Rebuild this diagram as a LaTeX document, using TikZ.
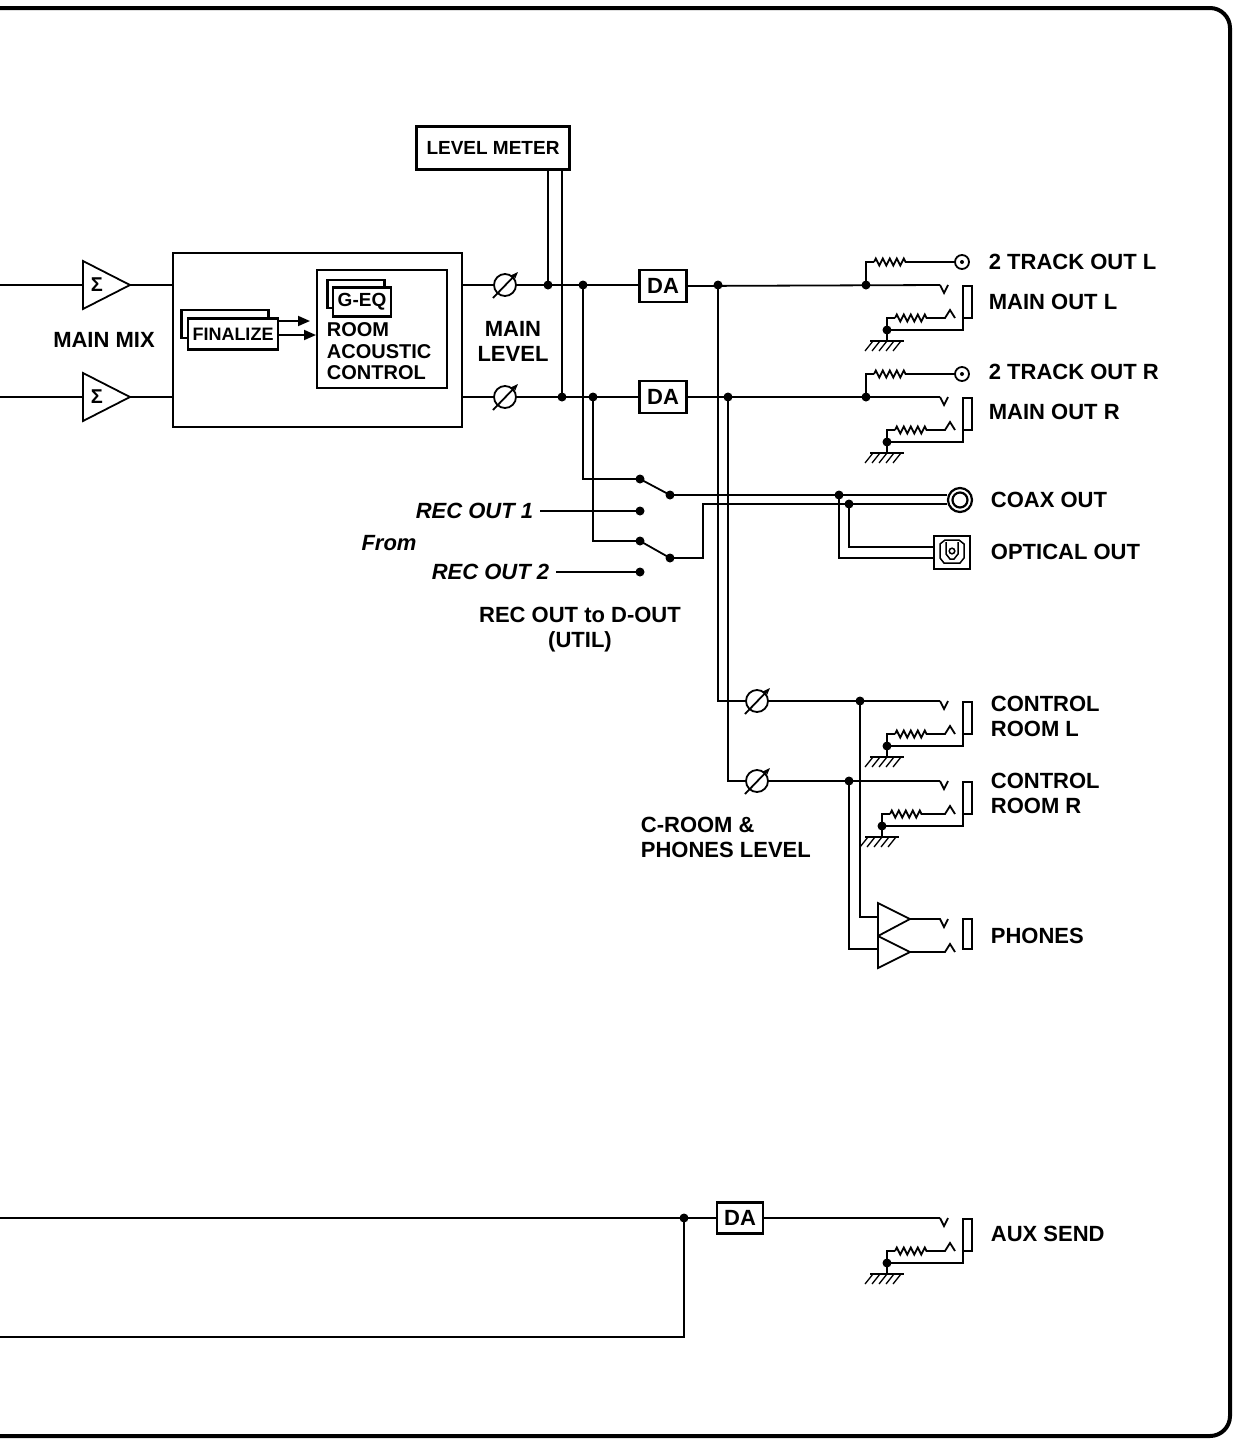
\documentclass[tikz,border=0pt]{standalone}
\usepackage{fontspec}
\setmainfont{Liberation Sans}
\usetikzlibrary{decorations.pathmorphing,arrows.meta}
\begin{document}
\begin{tikzpicture}[x=1pt,y=-1pt,line width=1.8pt,
  lbl/.style={font=\fontsize{22}{25}\selectfont\bfseries,inner sep=0pt,align=left},
  ilbl/.style={font=\fontsize{22}{25}\selectfont\bfseries\itshape,inner sep=0pt},
  box/.style={draw,line width=2.4pt,fill=white},
  res/.style={decorate,decoration={zigzag,segment length=7pt,amplitude=3.5pt}}]
\useasboundingbox (0,0) rectangle (1237,1443);
\draw[line width=4pt,rounded corners=20pt] (0,8) -- (1230,8) -- (1230,1436) -- (0,1436);
\newcommand\myjack[2]{%
  \draw (940,#1) -- (944,#1+8) -- (948,#1);
  \draw (963,#1+1) rectangle (972,#1+33);
  \draw (#2,#1+45) -- (#2,#1+33) -- (#2+8,#1+33);
  \draw[res] (#2+8,#1+33) -- (#2+42,#1+33);
  \draw (#2+42,#1+33) -- (945,#1+33) -- (950,#1+25) -- (955,#1+33);
  \draw (#2,#1+45) -- (963,#1+45) -- (963,#1+33);
  \fill (#2,#1+45) circle (4.5);
  \draw (#2,#1+45) -- (#2,#1+56);
  \draw (#2-17,#1+56) -- (#2+17,#1+56);
  \foreach \k in {0,1,2,3,4} \draw[line width=1.3pt] (#2-14+\k*7,#1+56) -- (#2-22+\k*7,#1+66);
}
\newcommand\mypot[2]{%
  \draw (#1,#2) circle (11);
  \draw[-{Stealth[length=8pt,width=6pt]}] (#1-12,#2+13) -- (#1+13,#2-13);
}
% main mix
\foreach \y in {285,397}{
  \draw (0,\y) -- (83,\y);
  \draw[fill=white] (83,\y-24) -- (130,\y) -- (83,\y+24) -- cycle;
  \node[font=\fontsize{20}{20}\selectfont\bfseries] at (97,\y) {Σ};
  \draw (130,\y) -- (173,\y);
}
\node[lbl] (mm) at (104,340) {MAIN MIX};
% big box
\draw[line width=2.4pt] (173,253) rectangle (462,427);
\node[box,minimum width=87pt,minimum height=28pt] (fin0) at (225,324) {};
\node[box,minimum width=90pt,minimum height=31pt,font=\fontsize{18}{18}\selectfont\bfseries] (fin) at (233,334) {FINALIZE};
\draw[-{Triangle[length=12pt,width=10pt]}] (278,321) -- (310,321);
\draw[-{Triangle[length=12pt,width=10pt]}] (278,335) -- (316,335);
\draw[line width=2.4pt] (317,270) rectangle (447,388);
\node[box,minimum width=57pt,minimum height=28pt] (geq0) at (356,294) {};
\node[box,minimum width=58pt,minimum height=29pt,font=\fontsize{19}{19}\selectfont\bfseries] (geq) at (362,302) {G-EQ};
\node[lbl,anchor=north west,font=\fontsize{20}{21.5}\selectfont\bfseries] (rac) at (326,322) {ROOM\\ACOUSTIC\\CONTROL};
% main level
\foreach \y in {285,397}{
  \draw (462,\y) -- (494,\y);
  \mypot{505}{\y}
  \draw (516,\y) -- (640,\y);
}
\node[lbl,align=center] (ml) at (513,341) {MAIN\\LEVEL};
\node[box,inner sep=4pt,font=\fontsize{19}{21}\selectfont\bfseries,minimum width=153pt,minimum height=43pt] (lm) at (493,148) {LEVEL METER};
\draw (548,170) -- (548,285);
\draw (562,170) -- (562,397);
\fill (548,285) circle (4.5) (583,285) circle (4.5) (562,397) circle (4.5) (593,397) circle (4.5);
% DA
\node[box,minimum width=47pt,minimum height=32pt,font=\fontsize{22}{22}\selectfont\bfseries] (da1) at (663,286) {DA};
\node[box,minimum width=47pt,minimum height=32pt,font=\fontsize{22}{22}\selectfont\bfseries] (da2) at (663,397) {DA};
\draw (da1.east) -- (940,285);
\draw (da2.east) -- (940,397);
\fill (718,285) circle (4.5) (728,397) circle (4.5);
% 2 track / main out
\foreach \y in {285,397}{
  \fill (866,\y) circle (4.5);
  \draw (866,\y) -- (866,\y-23) -- (874,\y-23);
  \draw[res] (874,\y-23) -- (908,\y-23);
  \draw (908,\y-23) -- (955,\y-23);
  \draw (962,\y-23) circle (7); \fill (962,\y-23) circle (2);
  \myjack{\y}{887}
}
\node[lbl,anchor=west] (t2l) at (988,262) {2 TRACK OUT L};
\node[lbl,anchor=west] (mol) at (988,302) {MAIN OUT L};
\node[lbl,anchor=west] (t2r) at (988,372) {2 TRACK OUT R};
\node[lbl,anchor=west] (mor) at (988,412) {MAIN OUT R};
% switches
\draw (583,285) -- (583,479) -- (640,479);
\draw (593,397) -- (593,541) -- (640,541);
\fill (640,479) circle (4.5) (670,495) circle (4.5) (640,511) circle (4.5) (640,541) circle (4.5) (670,558) circle (4.5) (640,572) circle (4.5);
\draw (640,479) -- (670,495);
\draw (640,541) -- (670,558);
\draw (670,495) -- (947,495);
\draw (670,558) -- (703,558) -- (703,504) -- (947,504);
\draw[line width=2.2pt,fill=white] (960,500) circle (12);
\draw[line width=2.2pt] (960,500) circle (7.5);
\fill (839,495) circle (4.5) (849,504) circle (4.5);
\draw (839,495) -- (839,558) -- (934,558);
\draw (849,504) -- (849,547) -- (934,547);
\draw[line width=2.4pt] (934,536) rectangle (970,569);
\draw[line width=1.5pt] (940,544) -- (945,540) -- (959,540) -- (964,544) -- (964,558) -- (960,563) -- (944,563) -- (940,558) -- cycle;
\draw[line width=1.5pt] (946,542) -- (946,554) -- (950,559) -- (954,559) -- (958,554) -- (958,542);
\draw[line width=1.5pt] (952,551) circle (2.8);
\node[lbl,anchor=west] (coax) at (990,500) {COAX OUT};
\node[lbl,anchor=west] (opt) at (990,552) {OPTICAL OUT};
\node[ilbl,anchor=east] (r1) at (534,511) {REC OUT 1};
\node[ilbl,anchor=east] (r2) at (550,572) {REC OUT 2};
\node[ilbl] (from) at (389,543) {From};
\draw (540,511) -- (640,511);
\draw (556,572) -- (640,572);
\node[lbl,align=center] (util) at (580,630) {REC OUT to D-OUT\\(UTIL)};
% control room
\draw (718,285) -- (718,701) -- (746,701);
\draw (728,397) -- (728,781) -- (746,781);
\mypot{757}{701}
\mypot{757}{781}
\draw (768,701) -- (940,701);
\draw (768,781) -- (940,781);
\myjack{701}{887}
\myjack{781}{882}
\fill (860,701) circle (4.5) (849,781) circle (4.5);
\node[lbl,anchor=west,align=left] (crl) at (990,716) {CONTROL\\ROOM L};
\node[lbl,anchor=west,align=left] (crr) at (990,793) {CONTROL\\ROOM R};
\node[lbl,anchor=north west,align=left] (crp) at (640,816) {C-ROOM \&\\PHONES LEVEL};
% phones
\draw (860,701) -- (860,917) -- (878,917);
\draw (849,781) -- (849,949) -- (878,949);
\draw[fill=white] (878,903) -- (910,919) -- (878,936) -- cycle;
\draw[fill=white] (878,936) -- (910,952) -- (878,968) -- cycle;
\draw (910,919) -- (940,919) -- (944,927) -- (948,919);
\draw (910,952) -- (945,952) -- (950,944) -- (955,952);
\draw (963,919) rectangle (972,949);
\node[lbl,anchor=west] (ph) at (990,936) {PHONES};
% aux
\node[box,minimum width=46pt,minimum height=31pt,font=\fontsize{22}{22}\selectfont\bfseries] (da3) at (740,1218) {DA};
\draw (0,1218) -- (da3.west);
\fill (684,1218) circle (4.5);
\draw (684,1218) -- (684,1337) -- (0,1337);
\draw (da3.east) -- (940,1218);
\myjack{1218}{887}
\node[lbl,anchor=west] (aux) at (990,1234) {AUX SEND};
\end{tikzpicture}
\end{document}
